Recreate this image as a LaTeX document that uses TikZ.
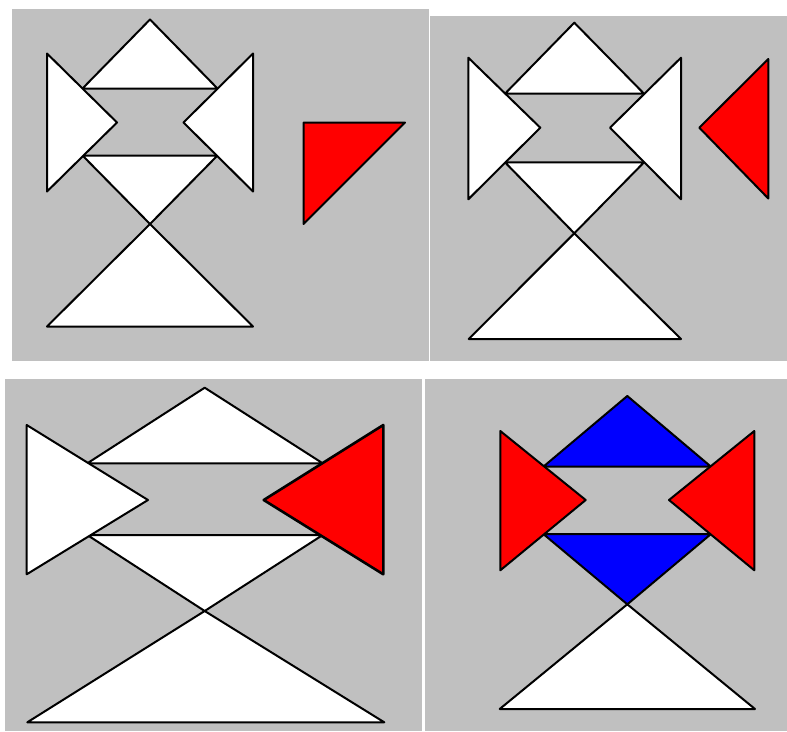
\documentclass[tikz,border=0pt]{standalone}
\definecolor{bggray}{RGB}{192,192,192}
\begin{document}
\begin{tikzpicture}[x=1pt,y=-1pt,
  piece/.style={draw=black,line width=2pt,line join=round,fill=white},
  redpiece/.style={piece,fill=red},
  bluepiece/.style={piece,fill=blue},
  panelbg/.style={fill=bggray}]
\useasboundingbox (0,0) rectangle (787,731);
\fill[white] (0,0) rectangle (787,731);
% ---------- panel 1 ----------
\fill[panelbg] (12,9) rectangle (428.5,361);
\filldraw[piece] (150,19.5) -- (82.5,88.5) -- (217.5,88.5) -- cycle;
\filldraw[piece] (82.5,155.5) -- (217.5,155.5) -- (150,224) -- cycle;
\filldraw[piece] (47,53.5) -- (117,122.5) -- (47,191.5) -- cycle;
\filldraw[piece] (253,53.5) -- (183.5,122.5) -- (253,191.5) -- cycle;
\filldraw[piece] (150,224) -- (253,326.5) -- (47,326.5) -- cycle;
\filldraw[redpiece] (303.5,122.5) -- (405,122.5) -- (303.5,224) -- cycle;
% ---------- panel 2 ----------
\fill[panelbg] (430,15.5) rectangle (787,360.5);
\filldraw[piece] (574.3,22.7) -- (505,93.7) -- (644,93.7) -- cycle;
\filldraw[piece] (505,162.3) -- (644,162.3) -- (574.3,233.3) -- cycle;
\filldraw[piece] (468.3,57.7) -- (540.3,127.7) -- (468.3,199.3) -- cycle;
\filldraw[piece] (681,57.7) -- (610,127.7) -- (681,199.3) -- cycle;
\filldraw[piece] (574.3,233.3) -- (681,339) -- (468.7,339) -- cycle;
\filldraw[redpiece] (699.3,127.7) -- (768.3,59) -- (768.3,198.5) -- cycle;
% ---------- panel 3 ----------
\fill[panelbg] (5,379) rectangle (422.3,731);
\filldraw[piece] (204.7,387.7) -- (87.3,463.3) -- (322.7,463.3) -- cycle;
\filldraw[piece] (87.3,535) -- (322.7,535) -- (204.7,611) -- cycle;
\filldraw[piece] (26.7,425) -- (148,500) -- (26.7,574.3) -- cycle;
\filldraw[redpiece,line width=2.6pt] (383.3,425) -- (263.7,500) -- (383.3,574.3) -- cycle;
\filldraw[piece] (204.7,611) -- (384.3,722.3) -- (27.3,722.3) -- cycle;
% ---------- panel 4 ----------
\fill[panelbg] (425,379) rectangle (787,731);
\filldraw[bluepiece] (627.3,396) -- (543.3,466.7) -- (711,466.7) -- cycle;
\filldraw[bluepiece] (543.3,534) -- (711,534) -- (627.3,604.3) -- cycle;
\filldraw[redpiece] (500.3,431) -- (585.7,500) -- (500.3,570.3) -- cycle;
\filldraw[redpiece] (754.3,431) -- (669,500) -- (754.3,570.3) -- cycle;
\filldraw[piece] (627.3,604.3) -- (755,709) -- (499.7,709) -- cycle;
\end{tikzpicture}
\end{document}
